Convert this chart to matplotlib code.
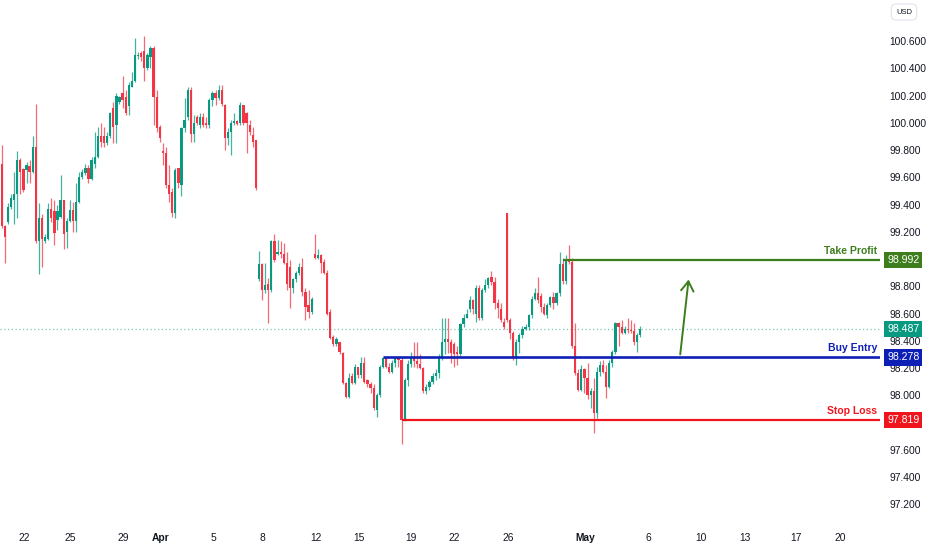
import numpy as np
import matplotlib
matplotlib.use('Agg')
import matplotlib.pyplot as plt

# 4h candles
opens = [
    99.70, 99.24, 99.27, 99.38, 99.43, 99.48, 99.73, 99.66, 99.65, 99.68,
    99.64, 99.82, 99.13, 99.30, 99.13, 99.15, 99.37, 99.35, 99.29, 99.31,
    99.43, 99.20, 99.28, 99.36, 99.28, 99.42, 99.60, 99.63, 99.67, 99.59,
    99.70, 99.75, 99.90, 99.90, 99.85, 99.90, 100.11,
    99.98, 100.15, 100.22, 100.19, 100.12, 100.26, 100.31, 100.49, 100.51, 100.53,
    100.40, 100.48, 100.55, 100.19, 99.97, 99.79, 99.78, 99.54, 99.49, 99.34,
    99.67, 99.54, 99.96, 100.04, 100.24, 99.92, 100.04, 99.98, 100.04, 100.00,
    99.98, 100.17, 100.22, 100.18, 100.24, 100.13, 99.89, 99.93, 100.00, 100.01,
    100.00, 100.13, 100.07, 99.98, 99.91, 99.87,
    98.85, 98.96, 98.77, 98.82, 98.77, 99.13, 99.04, 99.05, 99.04, 98.97,
    98.94, 98.79, 98.85, 98.90, 98.94, 98.76, 98.66, 98.61, 99.04, 99.01,
    99.03, 98.98, 98.90, 98.61, 98.43, 98.38, 98.39, 98.31, 98.09, 97.99,
    98.14, 98.09, 98.21, 98.15, 98.24, 98.11, 98.08, 98.05, 97.89, 98.00,
    98.21, 98.27, 98.21, 98.17, 98.24, 98.27,
    98.26, 97.82, 98.11, 98.23, 98.27, 98.25, 98.23, 98.20, 98.03, 98.06,
    98.10, 98.14, 98.16, 98.28, 98.39, 98.41, 98.39, 98.38, 98.32, 98.30,
    98.52, 98.57, 98.63, 98.70, 98.60, 98.79, 98.57, 98.77, 98.81, 98.87,
    98.83, 98.68, 98.63, 98.54, 99.34, 98.55, 98.46, 98.28, 98.39, 98.44,
    98.49, 98.50, 98.59, 98.71, 98.75, 98.73, 98.65, 98.59, 98.66, 98.72,
    98.68, 98.75, 98.96, 98.84, 98.99, 98.98, 98.36, 98.16, 98.04, 98.19,
    98.13, 98.00, 98.03, 97.87, 98.17, 98.22, 98.17, 98.06, 98.24, 98.32,
    98.53, 98.50, 98.46, 98.49, 98.48, 98.47, 98.39, 98.44,
]
highs = [
    99.84, 99.25, 99.41, 99.48, 99.64, 99.79, 99.74, 99.67, 99.71, 99.73,
    99.90, 100.14, 99.41, 99.33, 99.18, 99.41, 99.45, 99.43, 99.40, 99.62,
    99.43, 99.30, 99.43, 99.42, 99.56, 99.64, 99.66, 99.70, 99.69, 99.75,
    99.93, 99.97, 100.00, 99.97, 99.93, 100.08, 100.15,
    100.22, 100.20, 100.34, 100.24, 100.30, 100.37, 100.62, 100.52, 100.53, 100.64,
    100.51, 100.56, 100.56, 100.24, 99.98, 99.85, 99.82, 99.69, 99.52, 99.67,
    99.67, 99.97, 100.18, 100.26, 100.26, 100.06, 100.06, 100.07, 100.07, 100.04,
    100.18, 100.23, 100.24, 100.28, 100.28, 100.14, 99.96, 100.02, 100.07, 100.02,
    100.15, 100.13, 100.08, 100.02, 99.97, 99.87,
    99.06, 98.97, 98.97, 98.86, 99.14, 99.18, 99.14, 99.13, 99.12, 99.05,
    98.99, 98.86, 98.91, 98.97, 99.01, 98.79, 98.77, 98.72, 99.18, 99.07,
    99.04, 99.00, 98.92, 98.63, 98.44, 98.43, 98.39, 98.32, 98.10, 98.16,
    98.16, 98.23, 98.21, 98.28, 98.28, 98.12, 98.10, 98.08, 98.02, 98.22,
    98.28, 98.28, 98.24, 98.26, 98.28, 98.28,
    98.28, 98.13, 98.26, 98.32, 98.39, 98.39, 98.30, 98.21, 98.08, 98.11,
    98.16, 98.19, 98.30, 98.57, 98.57, 98.57, 98.41, 98.39, 98.36, 98.53,
    98.60, 98.63, 98.73, 98.71, 98.81, 98.81, 98.79, 98.85, 98.87, 98.91,
    98.87, 98.71, 98.68, 98.57, 99.34, 98.57, 98.47, 98.41, 98.46, 98.51,
    98.52, 98.60, 98.73, 98.79, 98.87, 98.75, 98.68, 98.68, 98.73, 98.76,
    98.76, 99.05, 99.01, 99.03, 99.10, 99.01, 98.53, 98.19, 98.22, 98.20,
    98.24, 98.05, 98.13, 98.21, 98.25, 98.26, 98.22, 98.26, 98.33, 98.54,
    98.54, 98.55, 98.51, 98.57, 98.55, 98.53, 98.46, 98.51,
]
lows = [
    99.23, 98.97, 99.26, 99.37, 99.26, 99.30, 99.48, 99.49, 99.56, 99.56,
    99.63, 99.12, 98.89, 98.94, 99.12, 99.14, 99.27, 99.10, 99.21, 99.30,
    99.07, 99.08, 99.27, 99.20, 99.20, 99.41, 99.59, 99.62, 99.56, 99.58,
    99.67, 99.74, 99.82, 99.82, 99.84, 99.89, 99.85,
    99.85, 100.14, 100.11, 100.06, 100.06, 100.26, 100.30, 100.47, 100.45, 100.31,
    100.39, 100.40, 99.98, 99.93, 99.86, 99.69, 99.52, 99.42, 99.31, 99.30,
    99.52, 99.46, 99.93, 100.02, 99.86, 99.86, 99.98, 99.96, 99.97, 99.96,
    99.96, 100.12, 100.13, 100.17, 100.12, 99.80, 99.84, 99.76, 99.98, 99.98,
    99.98, 99.98, 99.78, 99.91, 99.82, 99.51,
    98.84, 98.70, 98.75, 98.53, 98.76, 98.98, 99.03, 99.01, 98.96, 98.77,
    98.64, 98.75, 98.83, 98.88, 98.73, 98.55, 98.57, 98.60, 99.00, 99.00,
    98.90, 98.89, 98.59, 98.41, 98.36, 98.36, 98.30, 98.08, 97.98, 97.98,
    98.08, 98.08, 98.13, 98.13, 98.09, 98.06, 98.02, 97.89, 97.84, 97.99,
    98.20, 98.20, 98.16, 98.16, 98.21, 98.21,
    97.64, 97.81, 98.07, 98.21, 98.21, 98.20, 98.19, 98.02, 98.01, 98.04,
    98.08, 98.11, 98.13, 98.26, 98.30, 98.31, 98.24, 98.21, 98.22, 98.29,
    98.50, 98.57, 98.61, 98.60, 98.54, 98.55, 98.55, 98.76, 98.79, 98.81,
    98.63, 98.57, 98.54, 98.49, 98.54, 98.41, 98.26, 98.22, 98.31, 98.42,
    98.48, 98.48, 98.57, 98.70, 98.68, 98.61, 98.59, 98.57, 98.65, 98.63,
    98.66, 98.73, 98.82, 98.82, 98.96, 98.35, 98.15, 98.03, 98.03, 98.02,
    97.97, 97.91, 97.72, 97.83, 98.14, 98.16, 97.98, 98.05, 98.21, 98.30,
    98.36, 98.45, 98.45, 98.46, 98.46, 98.37, 98.32, 98.43,
]
closes = [
    99.24, 99.16, 99.38, 99.45, 99.48, 99.73, 99.64, 99.51, 99.69, 99.64,
    99.82, 99.13, 99.30, 99.15, 99.16, 99.37, 99.30, 99.19, 99.35, 99.43,
    99.18, 99.28, 99.36, 99.28, 99.42, 99.60, 99.64, 99.67, 99.59, 99.73,
    99.75, 99.90, 99.86, 99.85, 99.90, 100.07, 99.97,
    100.20, 100.19, 100.17, 100.07, 100.28, 100.31, 100.50, 100.50, 100.48, 100.40,
    100.50, 100.55, 100.19, 99.96, 99.89, 99.78, 99.54, 99.48, 99.34, 99.65,
    99.56, 99.96, 100.02, 100.24, 99.92, 100.00, 100.00, 100.04, 99.98, 99.98,
    100.17, 100.22, 100.18, 100.24, 100.14, 99.89, 99.93, 100.00, 100.01, 99.99,
    100.13, 100.00, 100.00, 99.93, 99.86, 99.52,
    98.96, 98.77, 98.81, 98.77, 99.13, 98.99, 99.05, 99.04, 98.97, 98.82,
    98.79, 98.85, 98.90, 98.94, 98.76, 98.65, 98.61, 98.71, 99.01, 99.03,
    98.97, 98.90, 98.60, 98.42, 98.38, 98.41, 98.32, 98.09, 97.99, 98.13,
    98.09, 98.21, 98.15, 98.24, 98.10, 98.08, 98.05, 97.91, 98.00, 98.21,
    98.27, 98.21, 98.17, 98.24, 98.27, 98.26,
    97.82, 98.11, 98.23, 98.27, 98.25, 98.23, 98.20, 98.03, 98.06, 98.10,
    98.14, 98.16, 98.28, 98.39, 98.41, 98.39, 98.31, 98.30, 98.30, 98.52,
    98.57, 98.60, 98.70, 98.63, 98.79, 98.57, 98.77, 98.81, 98.86, 98.83,
    98.68, 98.64, 98.55, 98.50, 98.55, 98.46, 98.28, 98.39, 98.44, 98.49,
    98.50, 98.59, 98.71, 98.75, 98.70, 98.65, 98.60, 98.66, 98.72, 98.68,
    98.75, 98.96, 98.84, 98.99, 98.98, 98.36, 98.16, 98.04, 98.19, 98.13,
    98.00, 98.03, 97.87, 98.17, 98.22, 98.17, 98.06, 98.24, 98.32, 98.53,
    98.50, 98.46, 98.49, 98.48, 98.47, 98.39, 98.44, 98.487,
]

date_labels = ['22', '25', '29', 'Apr', '5', '8', '12', '15', '19', '22', '26',
               'May', '6', '10', '13', '17', '20']
date_pos = [7.2, 22.0, 39.1, 51.4, 68.2, 84.0, 101.4, 115.3, 132.0, 145.9, 163.3,
            188.2, 208.5, 225.6, 239.8, 256.2, 270.4]

# 99.000 and 97.800 sit under the level boxes, so they are not shown
price_ticks = [97.2, 97.4, 97.6, 98.0, 98.2, 98.4, 98.6, 98.8,
               99.2, 99.4, 99.6, 99.8, 100.0, 100.2, 100.4, 100.6]

take_profit = 98.992
buy_entry = 98.278
stop_loss = 97.819
last_price = 98.487
tp_start, entry_start, sl_start = 181, 123, 129
arrow_from = (218.8, 98.28)
arrow_to = (221.7, 98.87)

GREEN = '#089981'
RED = '#f23645'
TP_COL = '#3d7d1c'
ENTRY_COL = '#0d1fb5'
SL_COL = '#f0141c'
TXT = '#131722'

plt.rcParams['font.family'] = ['Liberation Sans', 'DejaVu Sans']

o = np.array(opens)
c = np.array(closes)
h = np.maximum(np.array(highs), np.maximum(o, c))
l = np.minimum(np.array(lows), np.minimum(o, c))
idx = np.arange(len(c))
cols = np.where(c >= o, GREEN, RED)

fig = plt.figure(figsize=(9.32, 5.5), dpi=100)
ax = fig.add_axes([0, 28 / 550, 880 / 932, 522 / 550])

ax.vlines(idx, l, h, colors=cols, lw=0.9, alpha=0.75, zorder=2)
ax.bar(idx, np.maximum(np.abs(c - o), 0.006), bottom=np.minimum(o, c),
       width=0.72, color=cols, linewidth=0, zorder=3)

ax.set_xlim(-0.55, 283.35)
ax.set_ylim(97.07, 100.901)
xmax = ax.get_xlim()[1]

# current price dotted line
ax.axhline(last_price, color=GREEN, lw=0.9, ls=(0, (1, 2)), alpha=0.55, zorder=1)

# trade levels
ax.hlines(take_profit, tp_start, xmax, color=TP_COL, lw=1.6, zorder=4)
ax.hlines(buy_entry, entry_start, xmax, color=ENTRY_COL, lw=1.9, zorder=4)
ax.hlines(stop_loss, sl_start, xmax, color=SL_COL, lw=1.6, zorder=4)

ytr = ax.get_yaxis_transform()
for lvl, name, col in [(take_profit, 'Take Profit', TP_COL),
                       (buy_entry, 'Buy Entry', ENTRY_COL),
                       (stop_loss, 'Stop Loss', SL_COL)]:
    ax.annotate(name, xy=(0.997, lvl), xycoords=ytr, xytext=(0, 3),
                textcoords='offset points', ha='right', va='bottom',
                color=col, fontsize=7.5, fontweight='bold', zorder=6)

for lvl, col in [(take_profit, TP_COL), (last_price, GREEN),
                 (buy_entry, ENTRY_COL), (stop_loss, SL_COL)]:
    ax.text(1.008, lvl, f'{lvl:.3f}', transform=ytr, ha='left', va='center',
            color='white', fontsize=7.6, zorder=10, clip_on=False,
            bbox=dict(boxstyle='square,pad=0.3', fc=col, ec='none'))

ax.annotate('', xy=arrow_to, xytext=arrow_from,
            arrowprops=dict(arrowstyle='->,head_length=0.7,head_width=0.45',
                            color=TP_COL, lw=1.4), zorder=5)

# axes styling
for s in ax.spines.values():
    s.set_visible(False)
ax.yaxis.tick_right()
ax.set_yticks(price_ticks)
ax.set_yticklabels([f'{t:.3f}' for t in price_ticks])
ax.tick_params(axis='y', length=0, pad=7, labelsize=7.4, labelcolor=TXT)
ax.set_xticks(date_pos)
ax.set_xticklabels(date_labels)
ax.tick_params(axis='x', length=0, pad=8, labelsize=7.4, labelcolor=TXT)
for lab in ax.get_xticklabels():
    if lab.get_text() in ('Apr', 'May'):
        lab.set_fontweight('bold')

fig.text(904 / 932, 1 - 12 / 550, 'USD', ha='center', va='center', fontsize=5.5,
         color=TXT, bbox=dict(boxstyle='round,pad=0.6', fc='white', ec='#e0e3eb', lw=0.8))

fig.savefig('out.png', dpi=100, facecolor='white')
